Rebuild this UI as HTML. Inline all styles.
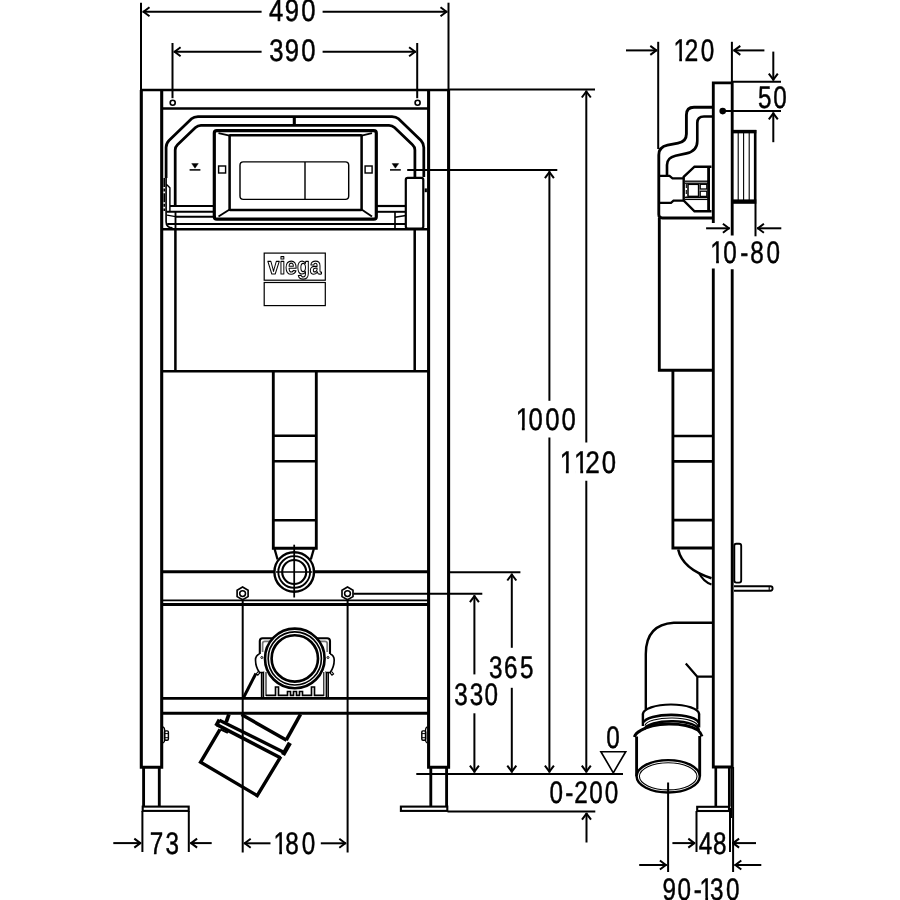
<!DOCTYPE html>
<html lang="en">
<head>
<meta charset="utf-8">
<title>Viega WC element – dimensional drawing</title>
<style>
html,body{margin:0;padding:0;background:#fff;}
body{width:900px;height:900px;overflow:hidden;}
svg{display:block;will-change:transform;text-rendering:geometricPrecision;font-family:"Liberation Sans",sans-serif;font-size:31.3px;}
svg *{stroke:#000;stroke-linecap:butt;}
svg text{stroke:#000;stroke-width:0.5px;stroke-linejoin:round;vector-effect:non-scaling-stroke;fill:#000;}
svg rect.m{fill:#fff;stroke:none;}
svg text.logo{stroke:#000;stroke-width:1.15px;fill:#fff;font-weight:bold;font-size:24px;}
</style>
</head>
<body>
<svg width="900" height="900" viewBox="0 0 900 900">
<rect x="0" y="0" width="900" height="900" fill="#fff" style="stroke:none"/>
<line x1="141" y1="2.7" x2="141" y2="90" stroke-width="2"/>
<line x1="448.5" y1="2.7" x2="448.5" y2="90" stroke-width="2"/>
<path d="M141.3,90.0 V767.3 H161.7 V90.0" stroke-width="3.08" fill="none"/>
<path d="M448.6,90.0 V767.3 H428.6 V90.0" stroke-width="3.08" fill="none"/>
<line x1="140" y1="90" x2="449.9" y2="90" stroke-width="2.64"/>
<line x1="161.7" y1="108.5" x2="428.6" y2="108.5" stroke-width="2.64"/>
<circle cx="172.7" cy="102.7" r="2.5" stroke-width="1.65" fill="none"/>
<circle cx="417.6" cy="102.7" r="2.5" stroke-width="1.65" fill="none"/>
<line x1="172.5" y1="43" x2="172.5" y2="98.2" stroke-width="2"/>
<line x1="417.2" y1="43" x2="417.2" y2="98.2" stroke-width="2"/>
<line x1="175.4" y1="229" x2="175.4" y2="371.2" stroke-width="2.53"/>
<line x1="414.7" y1="229" x2="414.7" y2="371.2" stroke-width="2.53"/>
<line x1="161.7" y1="229.3" x2="428.6" y2="229.3" stroke-width="2.64"/>
<line x1="161.7" y1="371.2" x2="428.6" y2="371.2" stroke-width="2.64"/>
<line x1="170" y1="206" x2="214" y2="206" stroke-width="2.2"/>
<line x1="377" y1="206" x2="405.8" y2="206" stroke-width="2.2"/>
<line x1="166.7" y1="211.8" x2="214" y2="211.8" stroke-width="1.98"/>
<line x1="377" y1="211.8" x2="405.8" y2="211.8" stroke-width="1.98"/>
<line x1="175.5" y1="216.8" x2="216" y2="216.8" stroke-width="1.87"/>
<path d="M167,215.2 L175.5,216.6" stroke-width="1.21" fill="none"/>
<path d="M395,217.3 L405.8,215.5" stroke-width="1.43" fill="none"/>
<line x1="167.2" y1="224" x2="405.8" y2="224" stroke-width="2.09"/>
<line x1="395" y1="212" x2="395" y2="228" stroke-width="1.65"/>
<path d="M166.1,178 V147.5 Q166.1,143.5 169,140.5 L191.5,118.8 Q194,116.5 198,116.5 H392 Q396,116.5 398.5,118.8 L421,140.5 Q423.8,143.5 423.8,147.5 V177" stroke-width="2.75" fill="none"/>
<path d="M166.1,177 V221.5 Q166.1,227.6 172.5,227.9" stroke-width="1.65" fill="none"/>
<line x1="164.25" y1="178" x2="164.25" y2="211" stroke-width="1.65" stroke-dasharray="9 1.6 3 1.6"/>
<line x1="175.5" y1="212" x2="175.5" y2="228.5" stroke-width="1.87"/>
<line x1="425.8" y1="188.4" x2="425.8" y2="192.2" stroke-width="2.2"/>
<path d="M166.3,184.2 L169.9,187.8 V211.5" stroke-width="1.43" fill="none"/>
<path d="M175.2,206 V150 Q175.2,147 177.5,144.8 L195.5,127.5 Q197.8,125.3 201,125.3 H389 Q392.2,125.3 394.5,127.5 L412.5,144.8 Q414.9,147 414.9,150 V177.5" stroke-width="2.75" fill="none"/>
<line x1="294.3" y1="116.5" x2="294.3" y2="125.3" stroke-width="3.08"/>
<rect x="405.8" y="177.8" width="17.5" height="50.7" rx="2" stroke-width="2.2" fill="none"/>
<rect x="214.3" y="130.6" width="162" height="88.6" rx="2.5" stroke-width="3.19" fill="none"/>
<rect x="229.6" y="135.2" width="132" height="74.8" rx="0.5" stroke-width="2.53" fill="none"/>
<line x1="229.6" y1="135.6" x2="218.5" y2="133.2" stroke-width="1.87"/>
<line x1="229.6" y1="209.5" x2="218.5" y2="216.5" stroke-width="1.87"/>
<line x1="361.6" y1="135.6" x2="372" y2="133.2" stroke-width="1.87"/>
<line x1="361.6" y1="209.5" x2="372" y2="216.5" stroke-width="1.87"/>
<rect x="240" y="161.9" width="108.7" height="37.5" rx="3.3" stroke-width="1.43" fill="none"/>
<line x1="305" y1="161.9" x2="305" y2="199.4" stroke-width="1.43"/>
<rect x="218.6" y="166" width="7" height="7" rx="0" stroke-width="1.43" fill="none"/>
<rect x="365.1" y="166" width="7" height="7" rx="0" stroke-width="1.43" fill="none"/>
<path d="M191.7,163.6 H198.3 L195.0,168.2 Z" stroke-width="0.44" fill="#000"/>
<line x1="189.6" y1="169.9" x2="200.4" y2="169.9" stroke-width="1.54"/>
<path d="M392.09999999999997,163.6 H398.7 L395.4,168.2 Z" stroke-width="0.44" fill="#000"/>
<line x1="390" y1="169.9" x2="400.8" y2="169.9" stroke-width="1.54"/>
<rect x="264.2" y="253.1" width="61.1" height="27.1" rx="0" stroke-width="1.21" fill="none"/>
<rect x="264.2" y="282.5" width="61.1" height="23.1" rx="0" stroke-width="1.21" fill="none"/>
<text x="294.6" y="274.2" text-anchor="middle" textLength="53.5" lengthAdjust="spacingAndGlyphs" class="logo">viega</text>
<path d="M273.3,371.2 V548.3 H316.3 V371.2" stroke-width="2.86" fill="none"/>
<line x1="273.3" y1="435.8" x2="316.3" y2="435.8" stroke-width="2.64"/>
<line x1="273.3" y1="461.2" x2="316.3" y2="461.2" stroke-width="2.64"/>
<line x1="273.3" y1="520.3" x2="316.3" y2="520.3" stroke-width="2.64"/>
<path d="M274.6,549 L277.6,559.5" stroke-width="2.31" fill="none"/>
<path d="M313.8,549 L310.8,559.5" stroke-width="2.31" fill="none"/>
<line x1="161.7" y1="571.7" x2="428.6" y2="571.7" stroke-width="2.86"/>
<line x1="161.7" y1="600.4" x2="428.6" y2="600.4" stroke-width="1.87"/>
<line x1="161.7" y1="604.5" x2="428.6" y2="604.5" stroke-width="3.08"/>
<circle cx="294.2" cy="572" r="19.8" stroke-width="2.42" fill="#fff"/>
<circle cx="294.2" cy="572" r="15.9" stroke-width="1.87" fill="none"/>
<circle cx="294.2" cy="572" r="12" stroke-width="2.15" fill="none"/>
<line x1="294.2" y1="544.7" x2="294.2" y2="597.5" stroke-width="1.76"/>
<line x1="276" y1="572" x2="312.4" y2="572" stroke-width="1.43"/>
<path d="M242.6,587.0 L248.1,590.2 L248.1,596.6 L242.6,599.8 L237.1,596.6 L237.1,590.2 Z" stroke-width="1.65" fill="#fff"/>
<circle cx="242.6" cy="593.6" r="2.9" stroke-width="1.54" fill="none"/>
<line x1="242.7" y1="600.5" x2="242.7" y2="852.5" stroke-width="2"/>
<path d="M347.5,587.0 L353.0,590.2 L353.0,596.6 L347.5,599.8 L342.0,596.6 L342.0,590.2 Z" stroke-width="1.65" fill="#fff"/>
<circle cx="347.5" cy="593.6" r="2.9" stroke-width="1.54" fill="none"/>
<line x1="347.6" y1="600.5" x2="347.6" y2="852.5" stroke-width="2"/>
<line x1="353.5" y1="593.8" x2="482.3" y2="593.8" stroke-width="2"/>
<line x1="161.7" y1="698.4" x2="428.6" y2="698.4" stroke-width="2.86"/>
<line x1="161.7" y1="713.3" x2="428.6" y2="713.3" stroke-width="2.86"/>
<path d="M261.5,698 V672 M328.3,698 V672" stroke-width="1.32" fill="none"/>
<path d="M259.8,654 V641 Q259.8,638.2 262.6,638.2 H327.2 Q330,638.2 330,641 V654" stroke-width="2.09" fill="none"/>
<path d="M262.6,652 V643.5 Q262.6,641.3 265,641.3 H324.8 Q327.2,641.3 327.2,643.5 V652" stroke-width="1.76" fill="none" style="stroke:#777"/>
<path d="M263.3,698 V671 M326.5,698 V671" stroke-width="1.76" fill="none"/>
<path d="M266,696 V672 M323.8,696 V672" stroke-width="1.1" fill="none"/>
<path d="M266,695.3 H275.5 V687 H278.5 V695.3 H287.5 V691.5 H290.5 V695.3 H293.5 V691.5 H296.5 V695.3 H299.5 V691.5 H302.5 V695.3 H311.5 V687 H314.5 V695.3 H323.8" stroke-width="1.65" fill="none"/>
<path d="M259.5,654 Q255.5,655.5 255.5,660 Q255.5,667 259.5,672.5 H264 M330.2,654 Q334.2,655.5 334.2,660 Q334.2,667 330.2,672.5 H325.8" stroke-width="1.65" fill="#fff"/>
<circle cx="261.8" cy="657.5" r="1" stroke-width="0.99" fill="none"/>
<circle cx="328" cy="657.5" r="1" stroke-width="0.99" fill="none"/>
<path d="M258.2,671.5 L256.2,674 L257.8,675.2 L259.8,672.8" stroke-width="1.1" fill="none"/>
<path d="M331.6,671.5 L333.6,674 L332,675.2 L330,672.8" stroke-width="1.1" fill="none"/>
<line x1="255.9" y1="673.5" x2="243.6" y2="697.5" stroke-width="2.97"/>
<circle cx="294.8" cy="658.4" r="29.8" stroke-width="2.64" fill="#fff"/>
<circle cx="294.8" cy="658.4" r="26.6" stroke-width="1.65" fill="none"/>
<circle cx="294.8" cy="658.4" r="23.2" stroke-width="2.64" fill="none"/>
<path d="M220.0,729.4 L200.6,762.2 L257.2,795.6 L280.8,756.6" stroke-width="3.41" fill="none" stroke-linejoin="miter"/>
<path d="M241.5,714.6 L286.6,740.2" stroke-width="3.41" fill="none"/>
<path d="M219.4,720.3 L283.2,751.9" stroke-width="3.3" fill="none"/>
<path d="M216.8,724.6 L280.4,757.8" stroke-width="3.52" fill="none"/>
<path d="M219.4,719.6 L216.0,726.0" stroke-width="3.74" fill="none"/>
<path d="M289.9,742.8 L283.0,755.0" stroke-width="4.4" fill="none"/>
<path d="M228.9,714.4 L226.2,722.2" stroke-width="3.74" fill="none"/>
<path d="M300.5,714.3 L286.2,740.2" stroke-width="3.52" fill="none"/>
<path d="M220.3,729.3 L227.9,732.9" stroke-width="1.98" fill="none"/>
<path d="M143.6,767.3 V806.5 M159.3,767.3 V806.5" stroke-width="2.86" fill="none"/>
<path d="M430.8,767.3 V806.5 M446.6,767.3 V806.5" stroke-width="2.86" fill="none"/>
<rect x="142.7" y="806.6" width="46" height="4.3" rx="0" stroke-width="2.09" fill="none"/>
<rect x="400.9" y="806.6" width="46.4" height="4.3" rx="0" stroke-width="2.09" fill="none"/>
<path d="M163.0,726.8 Q164.7,727.6 164.7,730 V739.8 Q164.7,742.2 163.0,743" stroke-width="1.32" fill="none"/>
<rect x="164.5" y="730.9" width="3.9" height="9.4" rx="1.2" stroke-width="1.43" fill="none"/>
<line x1="164.8" y1="733.6" x2="168.2" y2="733.6" stroke-width="0.99"/>
<line x1="164.8" y1="737.7" x2="168.2" y2="737.7" stroke-width="0.99"/>
<path d="M427.2,726.8 Q425.5,727.6 425.5,730 V739.8 Q425.5,742.2 427.2,743" stroke-width="1.32" fill="none"/>
<rect x="421.8" y="730.9" width="3.9" height="9.4" rx="1.2" stroke-width="1.43" fill="none"/>
<line x1="425.4" y1="733.6" x2="422" y2="733.6" stroke-width="0.99"/>
<line x1="425.4" y1="737.7" x2="422" y2="737.7" stroke-width="0.99"/>
<line x1="261.6" y1="11.8" x2="142.6" y2="11.8" stroke-width="2"/>
<path d="M149.50,7.30 L143.50,11.80 L149.50,16.30" stroke-width="2" fill="none" stroke-linejoin="round"/>
<line x1="322.6" y1="11.8" x2="447.4" y2="11.8" stroke-width="2"/>
<path d="M440.50,16.30 L446.50,11.80 L440.50,7.30" stroke-width="2" fill="none" stroke-linejoin="round"/>
<line x1="261.6" y1="51.8" x2="173.7" y2="51.8" stroke-width="2"/>
<path d="M180.60,47.30 L174.60,51.80 L180.60,56.30" stroke-width="2" fill="none" stroke-linejoin="round"/>
<line x1="322.6" y1="51.8" x2="416" y2="51.8" stroke-width="2"/>
<path d="M409.10,56.30 L415.10,51.80 L409.10,47.30" stroke-width="2" fill="none" stroke-linejoin="round"/>
<text transform="scale(0.82 1)" x="328.10 347.40 367.52" y="21">490</text>
<text transform="scale(0.82 1)" x="328.22 347.40 367.52" y="61">390</text>
<line x1="449.5" y1="89.4" x2="595" y2="89.4" stroke-width="2"/>
<line x1="407.2" y1="170" x2="557.3" y2="170" stroke-width="2"/>
<line x1="586.3" y1="442.5" x2="586.3" y2="90.6" stroke-width="2"/>
<path d="M590.80,97.50 L586.30,91.50 L581.80,97.50" stroke-width="2" fill="none" stroke-linejoin="round"/>
<line x1="586.3" y1="480.8" x2="586.3" y2="772.6" stroke-width="2"/>
<path d="M581.80,765.70 L586.30,771.70 L590.80,765.70" stroke-width="2" fill="none" stroke-linejoin="round"/>
<line x1="549.4" y1="400.8" x2="549.4" y2="171.2" stroke-width="2"/>
<path d="M553.90,178.10 L549.40,172.10 L544.90,178.10" stroke-width="2" fill="none" stroke-linejoin="round"/>
<line x1="549.4" y1="437.5" x2="549.4" y2="772.6" stroke-width="2"/>
<path d="M544.90,765.70 L549.40,771.70 L553.90,765.70" stroke-width="2" fill="none" stroke-linejoin="round"/>
<text transform="scale(0.82 1)" x="628.92 644.59 664.83 684.83" y="430">1000</text><rect class="m" x="516.67" y="426.86" width="5.20" height="4.74"/><rect class="m" x="524.73" y="426.86" width="5.00" height="4.74"/>
<text transform="scale(0.82 1)" x="682.58 700.14 714.10 733.98" y="473">1120</text><rect class="m" x="560.67" y="469.86" width="5.20" height="4.74"/><rect class="m" x="568.73" y="469.86" width="5.00" height="4.74"/><rect class="m" x="575.07" y="469.86" width="5.20" height="4.74"/><rect class="m" x="583.13" y="469.86" width="3.12" height="4.74"/>
<line x1="449.5" y1="572.2" x2="520.4" y2="572.2" stroke-width="2"/>
<line x1="511.8" y1="647.8" x2="511.8" y2="573.6" stroke-width="2"/>
<path d="M516.30,580.50 L511.80,574.50 L507.30,580.50" stroke-width="2" fill="none" stroke-linejoin="round"/>
<line x1="511.8" y1="687.8" x2="511.8" y2="772.6" stroke-width="2"/>
<path d="M507.30,765.70 L511.80,771.70 L516.30,765.70" stroke-width="2" fill="none" stroke-linejoin="round"/>
<line x1="474.4" y1="674.4" x2="474.4" y2="595.2" stroke-width="2"/>
<path d="M478.90,602.10 L474.40,596.10 L469.90,602.10" stroke-width="2" fill="none" stroke-linejoin="round"/>
<line x1="474.4" y1="713.3" x2="474.4" y2="772.6" stroke-width="2"/>
<path d="M469.90,765.70 L474.40,771.70 L478.90,765.70" stroke-width="2" fill="none" stroke-linejoin="round"/>
<text transform="scale(0.775 1)" x="630.87 650.29 670.94" y="678">365</text>
<text transform="scale(0.775 1)" x="586.10 605.97 625.23" y="705">330</text>
<line x1="416.3" y1="773.9" x2="623" y2="773.9" stroke-width="2"/>
<line x1="447.5" y1="811.4" x2="595.3" y2="811.4" stroke-width="2"/>
<line x1="586.5" y1="842.5" x2="586.5" y2="812.8" stroke-width="2"/>
<path d="M591.00,819.70 L586.50,813.70 L582.00,819.70" stroke-width="2" fill="none" stroke-linejoin="round"/>
<text transform="scale(0.775 1)" x="708.97 729.24 740.84 760.20 780.20" y="803">0-200</text>
<text transform="scale(0.775 1)" x="782.13" y="748">0</text>
<path d="M600.9,751.7 H625.7 L613.3,772.8 Z" stroke-width="1.65" fill="none"/>
<line x1="142.4" y1="811" x2="142.4" y2="852" stroke-width="2"/>
<line x1="188.8" y1="811" x2="188.8" y2="852" stroke-width="2"/>
<line x1="113.3" y1="843.1" x2="141.2" y2="843.1" stroke-width="2"/>
<path d="M134.30,847.60 L140.30,843.10 L134.30,838.60" stroke-width="2" fill="none" stroke-linejoin="round"/>
<line x1="211.7" y1="843.1" x2="190.2" y2="843.1" stroke-width="2"/>
<path d="M197.10,838.60 L191.10,843.10 L197.10,847.60" stroke-width="2" fill="none" stroke-linejoin="round"/>
<text transform="scale(0.775 1)" x="193.22 213.45" y="854">73</text>
<line x1="270.5" y1="843.3" x2="243.8" y2="843.3" stroke-width="2"/>
<path d="M250.70,838.80 L244.70,843.30 L250.70,847.80" stroke-width="2" fill="none" stroke-linejoin="round"/>
<line x1="320.8" y1="843.3" x2="346.2" y2="843.3" stroke-width="2"/>
<path d="M339.30,847.80 L345.30,843.30 L339.30,838.80" stroke-width="2" fill="none" stroke-linejoin="round"/>
<text transform="scale(0.775 1)" x="352.81 368.20 389.49" y="854">180</text><rect class="m" x="274.28" y="850.86" width="4.95" height="4.74"/><rect class="m" x="281.97" y="850.86" width="4.76" height="4.74"/>
<line x1="658.2" y1="41.8" x2="658.2" y2="149" stroke-width="2"/>
<line x1="731.9" y1="41.8" x2="731.9" y2="84" stroke-width="2"/>
<line x1="626" y1="50.4" x2="657.2" y2="50.4" stroke-width="2"/>
<path d="M650.30,54.90 L656.30,50.40 L650.30,45.90" stroke-width="2" fill="none" stroke-linejoin="round"/>
<line x1="764.4" y1="50.4" x2="733.4" y2="50.4" stroke-width="2"/>
<path d="M740.30,45.90 L734.30,50.40 L740.30,54.90" stroke-width="2" fill="none" stroke-linejoin="round"/>
<text transform="scale(0.775 1)" x="868.94 883.55 904.07" y="61">120</text><rect class="m" x="674.28" y="57.86" width="4.95" height="4.74"/><rect class="m" x="681.97" y="57.86" width="3.40" height="4.74"/>
<line x1="773.3" y1="51.6" x2="773.3" y2="80.6" stroke-width="2"/>
<path d="M768.80,73.70 L773.30,79.70 L777.80,73.70" stroke-width="2" fill="none" stroke-linejoin="round"/>
<line x1="773.3" y1="142.2" x2="773.3" y2="112.4" stroke-width="2"/>
<path d="M777.80,119.30 L773.30,113.30 L768.80,119.30" stroke-width="2" fill="none" stroke-linejoin="round"/>
<line x1="732" y1="81.8" x2="781" y2="81.8" stroke-width="2"/>
<line x1="725" y1="111.1" x2="781" y2="111.1" stroke-width="2"/>
<text transform="scale(0.775 1)" x="978.04 997.88" y="108">50</text>
<path d="M713.3,223.1 V82.9 H732.2 V235.6" stroke-width="2.86" fill="none"/>
<path d="M713.3,268.4 V767 H732.2 V269.3" stroke-width="2.86" fill="none"/>
<circle cx="722.7" cy="111.1" r="3.3" stroke-width="0" fill="#000"/>
<path d="M712.2,107.2 H694 Q686.4,107.2 686.4,115 V134 Q686.4,141.6 678,143.2 L667.5,145.2 Q658.8,147 658.8,155 V214.5 Q658.8,218 662.3,218 H712" stroke-width="2.86" fill="none"/>
<path d="M712.2,116.5 H704 Q697.3,116.5 697.3,123 V141 Q697.3,151 686.5,153.4 L675.5,155.8 Q667,157.8 667,165 V175.5" stroke-width="2.64" fill="none"/>
<path d="M660,175.8 H669.5 L672.5,178.4 H683.7" stroke-width="2.2" fill="none"/>
<path d="M660,202.8 H671 L673.5,200.6 H683.7" stroke-width="2.2" fill="none"/>
<path d="M711.5,166.7 H694.5 L683.7,176.8 V200.6 L694.5,211.3 H711.5" stroke-width="2.42" fill="none"/>
<line x1="708.6" y1="166.7" x2="708.6" y2="211.3" stroke-width="2.86"/>
<line x1="685" y1="181.2" x2="708" y2="181.2" stroke-width="1.32"/>
<line x1="685" y1="183.2" x2="708" y2="183.2" stroke-width="1.32"/>
<line x1="685" y1="197.4" x2="708" y2="197.4" stroke-width="1.32"/>
<line x1="685" y1="199.4" x2="708" y2="199.4" stroke-width="1.32"/>
<rect x="688" y="184.3" width="10.6" height="12.1" rx="0" stroke-width="1.54" fill="none"/>
<rect x="700.2" y="184.3" width="6.6" height="4.7" rx="0" stroke-width="1.32" fill="none"/>
<rect x="700.2" y="191.2" width="6.6" height="5.2" rx="0" stroke-width="1.32" fill="none"/>
<line x1="686.3" y1="184" x2="686.3" y2="196.5" stroke-width="1.1" stroke-dasharray="4 2"/>
<line x1="731.9" y1="131.6" x2="756.3" y2="131.6" stroke-width="3.52"/>
<line x1="731.9" y1="201.6" x2="756.3" y2="201.6" stroke-width="4.4"/>
<line x1="755.2" y1="130" x2="755.2" y2="203" stroke-width="2.64"/>
<line x1="738.2" y1="132" x2="738.2" y2="201" stroke-width="1.1"/>
<line x1="743.6" y1="132" x2="743.6" y2="201" stroke-width="1.1"/>
<line x1="749.2" y1="132" x2="749.2" y2="201" stroke-width="1.1"/>
<line x1="755.5" y1="203" x2="755.5" y2="236.3" stroke-width="2"/>
<line x1="706.1" y1="228.3" x2="729.8" y2="228.3" stroke-width="2"/>
<path d="M722.90,232.80 L728.90,228.30 L722.90,223.80" stroke-width="2" fill="none" stroke-linejoin="round"/>
<line x1="781.3" y1="228.3" x2="757" y2="228.3" stroke-width="2"/>
<path d="M763.90,223.80 L757.90,228.30 L763.90,232.80" stroke-width="2" fill="none" stroke-linejoin="round"/>
<text transform="scale(0.775 1)" x="916.55 933.23 955.05 968.07 989.10" y="263">10-80</text><rect class="m" x="711.18" y="259.86" width="4.95" height="4.74"/><rect class="m" x="718.87" y="259.86" width="4.76" height="4.74"/>
<path d="M659.3,218 V370.2 H713.3" stroke-width="2.86" fill="none"/>
<path d="M672.9,370.2 V548 H713.3" stroke-width="2.86" fill="none"/>
<line x1="672.9" y1="436" x2="713.3" y2="436" stroke-width="2.64"/>
<line x1="672.9" y1="461.4" x2="713.3" y2="461.4" stroke-width="2.64"/>
<line x1="672.9" y1="520.1" x2="713.3" y2="520.1" stroke-width="2.64"/>
<path d="M678.2,549.5 Q682.5,569 711.5,578.2" stroke-width="2.53" fill="none"/>
<path d="M698.7,572.5 Q703.5,582 711.5,584.4" stroke-width="2.09" fill="none"/>
<rect x="734.3" y="543.8" width="6.9" height="38.8" rx="2" stroke-width="1.87" fill="none"/>
<path d="M734,586.3 H770.4 Q772.6,586.3 772.6,588.5 Q772.6,590.7 770.4,590.7 H734" stroke-width="1.87" fill="none"/>
<line x1="769.2" y1="586.3" x2="769.2" y2="590.7" stroke-width="1.1"/>
<path d="M712.4,622.8 H673.8 Q645.8,624.5 645.8,654 V709" stroke-width="2.42" fill="none"/>
<path d="M712.4,676.7 H697.3 V709.5 M697.3,676.7 L685.8,663.5" stroke-width="2.2" fill="none"/>
<path d="M642.9,714.2 A28.1,9.7 0 0 1 699.1,714.2" stroke-width="2.2" fill="none"/>
<path d="M642.9,713.6 V726 M699.1,713.6 V727.5" stroke-width="2.42" fill="none"/>
<path d="M643.6,722.4 A27.6,8.4 0 0 1 698.6,722.8" stroke-width="2.64" fill="none"/>
<path d="M645,725.6 A26.2,8 0 0 1 697.6,726.4" stroke-width="1.1" fill="none"/>
<path d="M644.4,729.6 A27,8.8 0 0 1 698.6,730.6" stroke-width="2.42" fill="none"/>
<path d="M634.4,737 Q635.5,733.2 640.5,730.6 A34,13.6 0 0 1 697.8,730.0 Q701,732.8 702,736.4" stroke-width="2.97" fill="none"/>
<path d="M636.6,736.5 V776.3 M699.7,736 V776.3" stroke-width="2.86" fill="none"/>
<ellipse cx="668.2" cy="776.3" rx="31.6" ry="16.2" stroke-width="2.42" fill="#fff"/>
<ellipse cx="668.2" cy="776.3" rx="28.8" ry="13.6" stroke-width="1.1" fill="none"/>
<path d="M715.8,767 V806.5 M729.3,767 V806.5" stroke-width="2.64" fill="none"/>
<rect x="697.2" y="806.8" width="31.8" height="4.2" rx="0" stroke-width="2.09" fill="none"/>
<line x1="731.4" y1="767" x2="731.4" y2="818" stroke-width="1.32"/>
<line x1="733.1" y1="767" x2="733.1" y2="872" stroke-width="2"/>
<line x1="696.5" y1="811" x2="696.5" y2="852" stroke-width="2"/>
<line x1="730" y1="808" x2="730" y2="852" stroke-width="2"/>
<line x1="668.1" y1="782.5" x2="668.1" y2="872" stroke-width="2"/>
<line x1="672.4" y1="843.1" x2="695.2" y2="843.1" stroke-width="2"/>
<path d="M688.30,847.60 L694.30,843.10 L688.30,838.60" stroke-width="2" fill="none" stroke-linejoin="round"/>
<line x1="756" y1="843.1" x2="732.2" y2="843.1" stroke-width="2"/>
<path d="M739.10,838.60 L733.10,843.10 L739.10,847.60" stroke-width="2" fill="none" stroke-linejoin="round"/>
<text transform="scale(0.775 1)" x="901.59 919.94" y="854">48</text>
<line x1="639.2" y1="865" x2="666.8" y2="865" stroke-width="2"/>
<path d="M659.90,869.50 L665.90,865.00 L659.90,860.50" stroke-width="2" fill="none" stroke-linejoin="round"/>
<line x1="761.3" y1="865" x2="734.4" y2="865" stroke-width="2"/>
<path d="M741.30,860.50 L735.30,865.00 L741.30,869.50" stroke-width="2" fill="none" stroke-linejoin="round"/>
<text transform="scale(0.775 1)" x="854.79 874.13 895.18 902.62 916.16 936.84" y="900">90-130</text><rect class="m" x="700.38" y="896.86" width="4.95" height="4.74"/><rect class="m" x="708.07" y="896.86" width="4.08" height="4.74"/>
</svg>
</body>
</html>
